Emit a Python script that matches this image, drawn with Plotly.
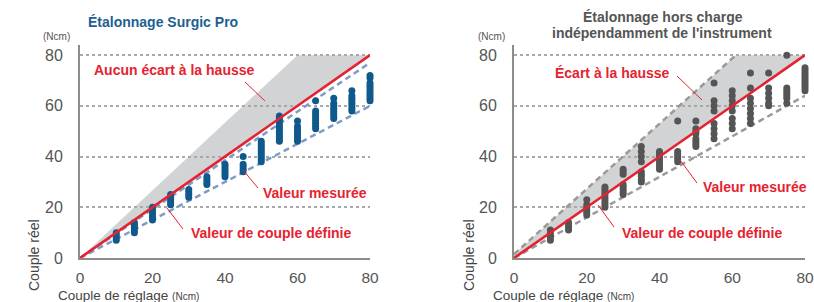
import plotly.graph_objects as go

# ---------------- data ----------------
settings = [10, 15, 20, 25, 30, 35, 40, 45, 50, 55, 60, 65, 70, 75, 80]

# Left chart: Étalonnage Surgic Pro (measured torque per setting)
left_measured = [
    [7, 8, 9, 10],
    [10, 11, 12, 13, 14],
    [15, 16, 17, 18, 19, 20],
    [21, 22, 23, 24, 25],
    [24, 25, 26, 27],
    [29, 30, 31, 32],
    [32, 33, 34, 35, 36, 37],
    [34, 35, 36, 37, 40],
    [38, 39, 40, 41, 42, 43, 44, 45, 46],
    [46, 47, 48, 49, 50, 51, 52, 53, 54, 55, 56],
    [46, 47, 48, 49, 50, 51, 52, 54],
    [51, 52, 53, 54, 55, 56, 57, 58, 62],
    [55, 56, 57, 58, 59, 60, 61, 63],
    [58, 59, 60, 61, 62, 63, 64, 66],
    [62, 63, 64, 65, 66, 67, 68, 69, 71, 72],
]

# Right chart: Étalonnage hors charge indépendamment de l'instrument
right_measured = [
    [7, 8, 9, 10, 11],
    [11, 12, 13, 14],
    [17, 18, 19, 20, 21, 23],
    [20, 21, 22, 23, 24, 25, 26, 27, 28],
    [25, 26, 27, 28, 29, 33, 34, 35],
    [30, 31, 32, 33, 34, 38, 40, 42, 44],
    [35, 36, 37, 38, 39, 40, 41, 42],
    [38, 39, 40, 41, 42, 54],
    [44, 45, 46, 47, 49, 50, 51, 54],
    [47, 49, 51, 53, 58, 60, 62, 69],
    [51, 53, 55, 58, 60, 62, 64, 66],
    [53, 55, 57, 59, 61, 63, 67, 73],
    [60, 61, 63, 65, 67, 73],
    [61, 63, 64, 65, 66, 67, 80],
    [66, 67, 68, 69, 70, 71, 72, 73, 74, 75],
]

# reference lines (setting -> torque)
ideal_x = [0, 80]
ideal_y = [0, 80]

left_band_x = [0, 60, 80]          # upper boundary of grey zone
left_band_y = [0, 80, 80]
left_low_x = [0, 80]
left_low_y = [0, 60]
left_high_x = [0, 80]
left_high_y = [0, 77]

right_band_x = [0, 61, 80]
right_band_y = [1.5, 80, 80]
right_low_x = [0, 80]
right_low_y = [0, 64]

y_ticks = [0, 20, 40, 60, 80]
x_ticks = [0, 20, 40, 60, 80]

# ---------------- style ----------------
W, H = 814, 302
RED = "#e52330"
BLUE = "#10598c"
BLUE_DASH = "#7f9cc8"
DOT_GREY = "#555555"
GREY_DASH = "#9a9a9a"
FILL = "#d2d3d5"
TXT = "#555555"
FONT = "Liberation Sans, Arial, sans-serif"


def px(x):
    return x / W


def py(y):
    return 1 - y / H


def flatten(measured):
    xs, ys = [], []
    for s, vals in zip(settings, measured):
        for v in vals:
            xs.append(s)
            ys.append(v)
    return xs, ys


fig = go.Figure()


def band_path(bx, by):
    pts = list(zip(bx, by)) + list(zip(ideal_x[::-1], ideal_y[::-1]))
    return "M " + " L ".join(f"{a},{b}" for a, b in pts) + " Z"


shapes = [
    dict(type="path", path=band_path(left_band_x, left_band_y), xref="x", yref="y",
         fillcolor=FILL, line=dict(width=0), layer="below"),
    dict(type="path", path=band_path(right_band_x, right_band_y), xref="x2", yref="y2",
         fillcolor=FILL, line=dict(width=0), layer="below"),
]

# left chart traces
fig.add_trace(go.Scatter(x=left_low_x, y=left_low_y, mode="lines",
                         line=dict(color=BLUE_DASH, width=2.5, dash="6px,4px"),
                         xaxis="x", yaxis="y", hoverinfo="skip"))
fig.add_trace(go.Scatter(x=left_high_x, y=left_high_y, mode="lines",
                         line=dict(color=BLUE_DASH, width=2.5, dash="6px,4px"),
                         xaxis="x", yaxis="y", hoverinfo="skip"))
lx, ly = flatten(left_measured)
fig.add_trace(go.Scatter(x=lx, y=ly, mode="markers",
                         marker=dict(color=BLUE, size=7), cliponaxis=False,
                         xaxis="x", yaxis="y"))
fig.add_trace(go.Scatter(x=ideal_x, y=ideal_y, mode="lines",
                         line=dict(color=RED, width=2.6), cliponaxis=False,
                         xaxis="x", yaxis="y", hoverinfo="skip"))

# right chart traces
fig.add_trace(go.Scatter(x=right_band_x[:2], y=right_band_y[:2], mode="lines",
                         line=dict(color=GREY_DASH, width=2.5, dash="6px,4px"),
                         xaxis="x2", yaxis="y2", hoverinfo="skip"))
fig.add_trace(go.Scatter(x=right_low_x, y=right_low_y, mode="lines",
                         line=dict(color=GREY_DASH, width=2.5, dash="6px,4px"),
                         xaxis="x2", yaxis="y2", hoverinfo="skip"))
rx, ry = flatten(right_measured)
fig.add_trace(go.Scatter(x=rx, y=ry, mode="markers",
                         marker=dict(color=DOT_GREY, size=7), cliponaxis=False,
                         xaxis="x2", yaxis="y2"))
fig.add_trace(go.Scatter(x=ideal_x, y=ideal_y, mode="lines",
                         line=dict(color=RED, width=2.6), cliponaxis=False,
                         xaxis="x2", yaxis="y2", hoverinfo="skip"))

# leader lines (pixel positions)
leaders = [
    (245, 82, 265, 101),
    (243, 170, 258, 188),
    (167, 208, 183, 229),
    (677, 76, 702, 100),
    (680, 160, 697, 183),
    (598, 205, 614, 227),
]
for x0, y0, x1, y1 in leaders:
    shapes.append(dict(type="line", xref="paper", yref="paper",
                       x0=px(x0), y0=py(y0), x1=px(x1), y1=py(y1),
                       line=dict(color=RED, width=1)))

annotations = []


def text(x, y, s, size, color, bold=False, xanchor="left", angle=0):
    annotations.append(dict(
        x=px(x), y=py(y), xref="paper", yref="paper", text=f"<b>{s}</b>" if bold else s,
        showarrow=False, xanchor=xanchor, yanchor="middle", textangle=angle,
        borderpad=0, font=dict(family=FONT, size=size, color=color)))


# titles
text(87, 22, "Étalonnage Surgic Pro", 14, "#1d5f92", bold=True)
text(663, 17, "Étalonnage hors charge", 14, TXT, bold=True, xanchor="center")
text(662, 33, "indépendamment de l'instrument", 14, TXT, bold=True, xanchor="center")

# units & axis titles
for ux, ax0, ty in [(56, 57, 34), (491, 492, 469)]:
    text(ux, 37, "(Ncm)", 10, TXT, xanchor="center")
    text(ax0, 295.5, "Couple de réglage <span style='font-size:10px'>(Ncm)</span>", 13.5, "#444444")
    text(ty, 255, "Couple réel", 14, "#444444", xanchor="center", angle=-90)

# red labels
text(93, 70, "Aucun écart à la hausse", 14, RED, bold=True)
text(262, 193, "Valeur mesurée", 14, RED, bold=True)
text(190, 233, "Valeur de couple définie", 14, RED, bold=True)
text(554, 73, "Écart à la hausse", 14, RED, bold=True)
text(702, 187, "Valeur mesurée", 14, RED, bold=True)
text(621, 233, "Valeur de couple définie", 14, RED, bold=True)

ydom = [(H - 258) / H, (H - 45) / H]
xaxis_common = dict(range=[0, 80], tickvals=x_ticks, showgrid=False, zeroline=False,
                    showline=True, linecolor="#8c8c8c", linewidth=2, ticks="",
                    tickfont=dict(family=FONT, size=15.5, color=TXT), ticklabelstandoff=4,
                    automargin=False, fixedrange=True)
yaxis_common = dict(range=[0, 84], tickvals=y_ticks, showgrid=True, gridcolor="#a8a8a8",
                    griddash="dot", gridwidth=1.5, zeroline=False, showline=True,
                    linecolor="#8c8c8c", linewidth=2, ticks="",
                    tickfont=dict(family=FONT, size=16, color=TXT), ticklabelstandoff=12,
                    automargin=False, domain=ydom, fixedrange=True)

fig.update_layout(
    width=W, height=H,
    autosize=False,
    margin=dict(l=0, r=0, t=0, b=0, pad=0, autoexpand=False),
    paper_bgcolor="white", plot_bgcolor="white",
    showlegend=False,
    xaxis=dict(domain=[80 / W, 370 / W], anchor="y", **xaxis_common),
    yaxis=dict(anchor="x", **yaxis_common),
    xaxis2=dict(domain=[514 / W, 805 / W], anchor="y2", **xaxis_common),
    yaxis2=dict(anchor="x2", **yaxis_common),
    shapes=shapes,
    annotations=annotations,
    font=dict(family=FONT),
)

fig.write_html("out.html", config={"displayModeBar": False},
               post_script="document.body.style.margin='0';document.body.style.overflow='hidden';")
